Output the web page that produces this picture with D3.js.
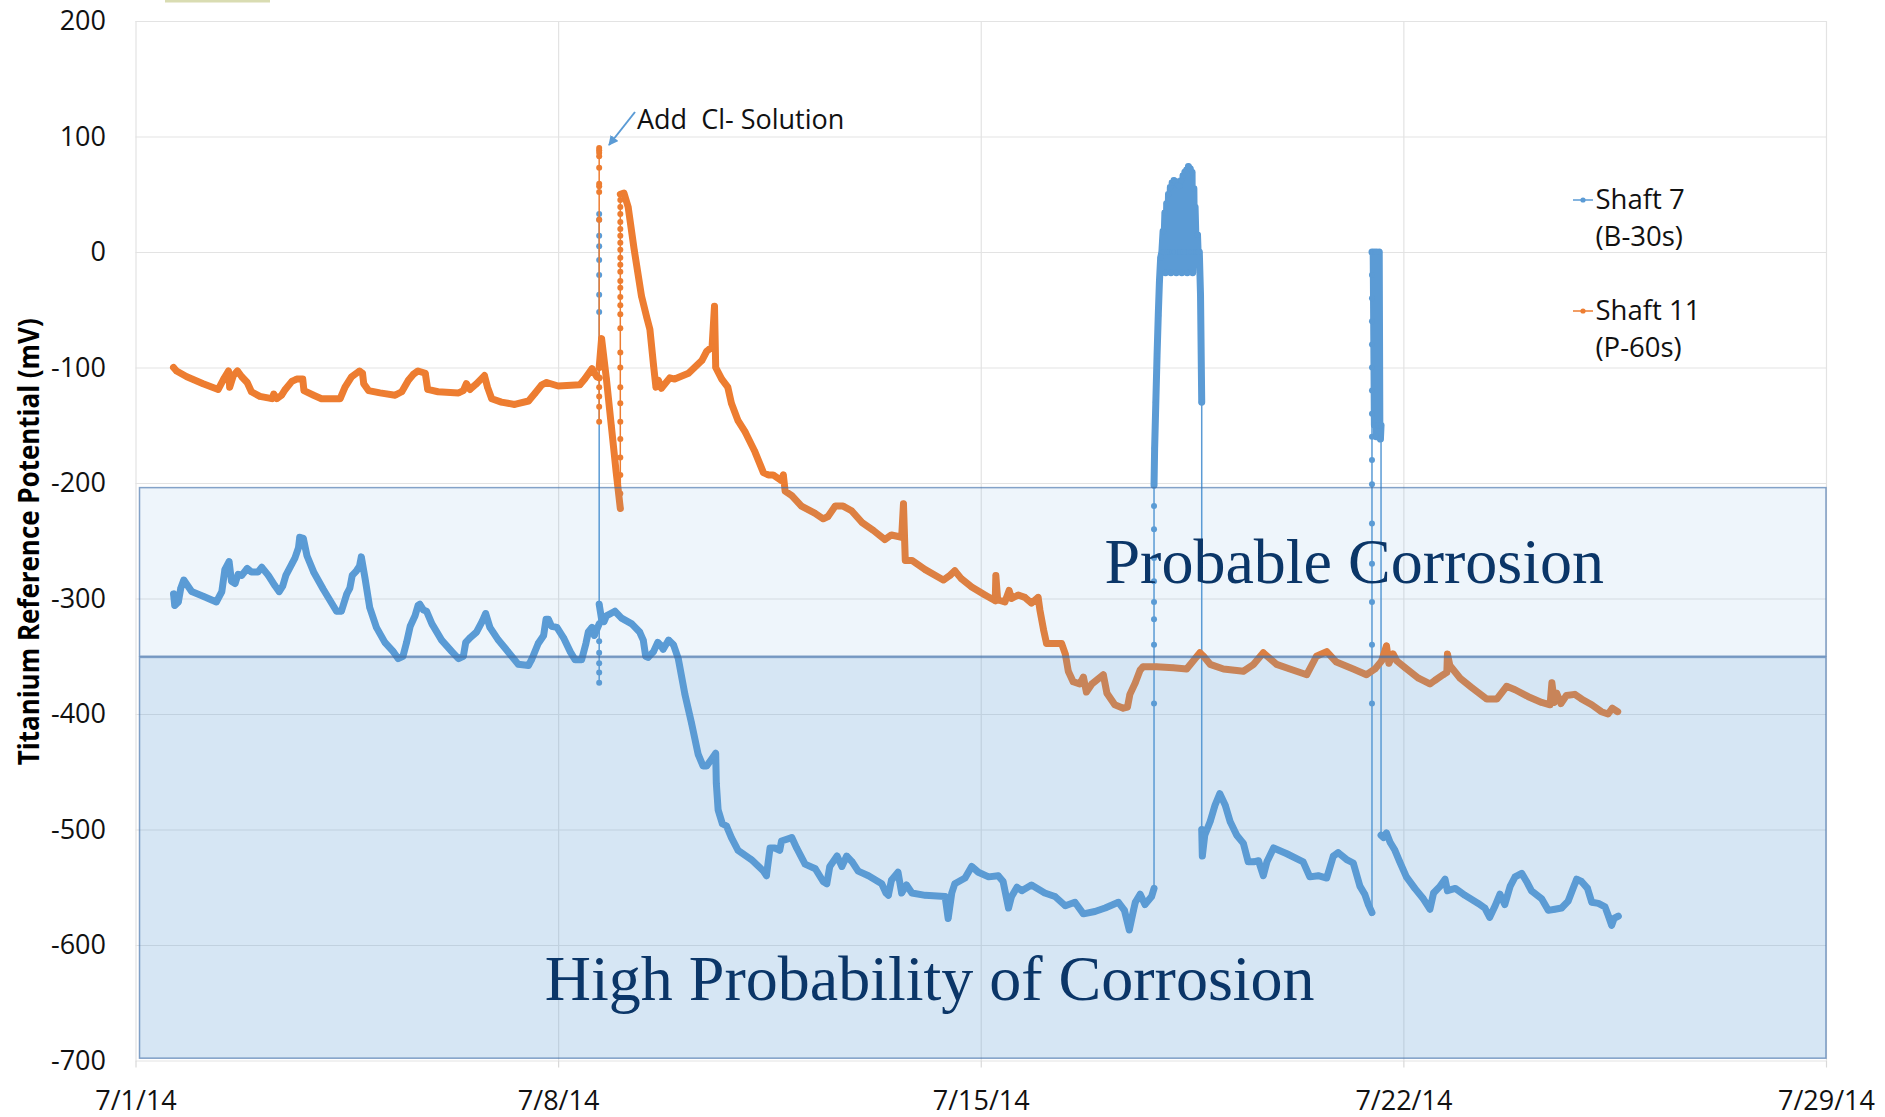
<!DOCTYPE html>
<html>
<head>
<meta charset="utf-8">
<script src="https://d3js.org/d3.v7.min.js"></script>
<style>
  body { margin: 0; background: #fff; }
  svg text { font-family: 'Open Sans', sans-serif; }
</style>
</head>
<body>
<script>
const WIDTH = 1885;
const HEIGHT = 1117;
const PLOT_LEFT = 135.5;
const PLOT_RIGHT = 1826;
const PLOT_TOP = 21;
const PLOT_BOTTOM = 1060.5;

const BLUE = '#5b9bd5';
const ORANGE = '#ed7d31';
const NAVY = '#0b3668';
const GRID_COLOR = '#e3e3e3';

// x labels of the chart (Excel date axis, one week apart)
const X_TICK_LABELS = ['7/1/14', '7/8/14', '7/15/14', '7/22/14', '7/29/14'];
const Y_TICKS = [200, 100, 0, -100, -200, -300, -400, -500, -600, -700];

const SERIES_NAMES = ['Shaft 7', 'Shaft 11'];
const SERIES_SUBNAMES = ['(B-30s)', '(P-60s)'];

// corrosion bands, in mV
const BAND_LABELS = ['Probable Corrosion', 'High Probability of Corrosion'];
const BAND_TOPS = [-204, -351];
const BAND_BOTTOMS = [-350, -698];

// readings: [days after 7/1/14, mV]; readings sharing a day are the fast jumps
const SHAFT7 = [
  [0.63,-296],[0.65,-306],[0.71,-303],[0.75,-291],[0.80,-284],[0.93,-294],[1.12,-298],[1.34,-303],
  [1.43,-294],[1.48,-275],[1.55,-268],[1.59,-285],[1.65,-287],[1.70,-279],[1.76,-280],[1.85,-274],
  [1.92,-277],[2.03,-277],[2.09,-273],[2.20,-280],[2.31,-289],[2.38,-294],[2.44,-289],[2.49,-280],
  [2.59,-270],[2.64,-265],[2.70,-256],[2.72,-247],[2.78,-248],[2.84,-263],[2.95,-277],[3.11,-292],
  [3.33,-311],[3.41,-311],[3.50,-296],[3.55,-291],[3.59,-280],[3.66,-276],[3.71,-272],[3.74,-264],
  [3.80,-282],[3.88,-308],[3.99,-325],[4.13,-338],[4.27,-346],[4.35,-352],[4.43,-350],[4.49,-338],
  [4.55,-324],[4.63,-315],[4.68,-306],[4.71,-305],[4.77,-310],[4.82,-311],[4.91,-322],[5.07,-336],
  [5.24,-346],[5.35,-352],[5.43,-350],[5.47,-338],[5.54,-334],[5.65,-329],[5.74,-320],[5.80,-313],
  [5.87,-325],[6.01,-336],[6.17,-346],[6.34,-357],[6.51,-358],[6.56,-353],[6.67,-339],[6.76,-332],
  [6.80,-318],[6.84,-318],[6.89,-324],[6.98,-325],[7.09,-334],[7.20,-346],[7.28,-353],[7.39,-353],
  [7.46,-339],[7.50,-329],[7.56,-325],[7.60,-332],[7.68,-322],
  [7.68,33],[7.68,28],[7.68,14],[7.68,5],[7.68,-7],[7.68,-20],[7.68,-37],[7.68,-52],
  [7.68,-337],[7.68,-347],[7.68,-356],[7.68,-364],[7.68,-373],[7.68,-305],
  [7.72,-318],[7.76,-320],[7.80,-315],[7.94,-311],[8.05,-317],[8.22,-322],[8.35,-329],[8.41,-336],
  [8.45,-350],[8.49,-351],[8.58,-346],[8.65,-338],[8.69,-340],[8.74,-344],[8.83,-336],[8.91,-340],
  [8.99,-352],[9.10,-383],[9.21,-408],[9.32,-435],[9.40,-445],[9.46,-445],[9.57,-437],[9.61,-434],
  [9.62,-460],[9.65,-483],[9.72,-495],[9.79,-497],[9.87,-507],[9.98,-518],[10.20,-526],[10.40,-536],
  [10.45,-540],[10.51,-516],[10.59,-516],[10.67,-518],[10.70,-510],[10.87,-507],[10.95,-516],[11.09,-530],
  [11.26,-534],[11.39,-545],[11.45,-547],[11.50,-532],[11.62,-523],[11.70,-532],[11.78,-523],[11.87,-528],
  [11.97,-536],[12.14,-540],[12.36,-547],[12.43,-555],[12.47,-557],[12.52,-544],[12.63,-537],[12.69,-555],
  [12.77,-548],[12.86,-555],[13.08,-557],[13.41,-558],[13.46,-577],[13.52,-555],[13.57,-547],[13.74,-542],
  [13.85,-532],[13.96,-537],[14.13,-541],[14.29,-540],[14.37,-545],[14.46,-568],[14.51,-558],[14.60,-550],
  [14.68,-553],[14.84,-548],[15.06,-555],[15.23,-558],[15.40,-566],[15.56,-563],[15.70,-573],[15.89,-571],
  [16.06,-568],[16.28,-563],[16.38,-570],[16.46,-587],[16.53,-570],[16.56,-563],[16.64,-556],[16.72,-565],
  [16.83,-558],[16.87,-551],
  [16.87,-391],[16.87,-340],[16.87,-318],[16.87,-303],[16.87,-285],[16.87,-265],[16.87,-240],
  [16.87,-220],[16.87,-202],
  [16.88,-170],[16.90,-130],[16.92,-90],[16.94,-55],[16.96,-25],[16.98,-5],[17.00,0],[17.02,18],
  [17.03,0],[17.05,34],[17.06,-18],[17.08,42],[17.09,0],[17.11,50],[17.12,0],[17.14,56],
  [17.15,-18],[17.17,60],[17.18,0],[17.20,62],[17.21,0],[17.23,61],[17.24,-18],[17.26,58],
  [17.27,0],[17.29,57],[17.30,0],[17.32,62],[17.33,-18],[17.35,66],[17.36,0],[17.38,69],
  [17.39,0],[17.41,71],[17.42,-18],[17.44,74],[17.45,0],[17.47,72],[17.48,0],[17.50,69],
  [17.51,-18],[17.53,55],[17.54,0],[17.55,39],[17.57,0],[17.59,15],[17.60,0],[17.62,0],
  [17.64,-37],[17.66,-130],
  [17.66,-500],
  [17.67,-523],[17.71,-505],[17.80,-493],[17.88,-479],[17.96,-469],[18.05,-479],[18.13,-493],[18.24,-505],
  [18.35,-512],[18.43,-528],[18.52,-528],[18.60,-527],[18.68,-540],[18.74,-528],[18.85,-516],[19.07,-521],
  [19.34,-528],[19.45,-541],[19.59,-540],[19.73,-542],[19.84,-523],[19.92,-520],[20.06,-526],[20.17,-529],
  [20.28,-549],[20.36,-556],[20.42,-565],[20.48,-572],
  [20.48,-391],[20.48,-340],[20.48,-303],[20.48,-270],[20.48,-235],[20.48,-201],[20.48,-180],
  [20.48,-160],[20.48,-140],[20.48,-120],[20.48,-100],[20.48,-80],[20.48,-60],[20.48,-40],
  [20.48,-20],[20.48,0],
  [20.50,0],[20.52,-150],[20.53,0],[20.55,-160],[20.56,0],[20.58,-150],[20.60,0],[20.61,-148],
  [20.62,-162],[20.63,-150],
  [20.63,-505],
  [20.67,-507],[20.72,-503],[20.78,-511],[20.86,-518],[20.94,-528],[21.05,-541],[21.19,-551],[21.33,-560],
  [21.44,-569],[21.50,-555],[21.61,-549],[21.69,-543],[21.73,-553],[21.86,-551],[22.02,-557],[22.24,-564],
  [22.35,-568],[22.43,-576],[22.52,-566],[22.60,-556],[22.68,-565],[22.77,-549],[22.85,-541],[22.96,-538],
  [23.04,-545],[23.12,-553],[23.29,-560],[23.40,-570],[23.51,-569],[23.62,-568],[23.73,-562],[23.81,-551],
  [23.87,-543],[23.95,-545],[24.05,-551],[24.12,-563],[24.23,-564],[24.34,-567],[24.39,-574],[24.45,-583],
  [24.49,-577],[24.56,-575]
];

const SHAFT11 = [
  [0.63,-100],[0.68,-103],[0.85,-108],[1.12,-114],[1.37,-119],[1.46,-110],[1.54,-103],[1.56,-117],
  [1.62,-107],[1.69,-103],[1.76,-108],[1.85,-113],[1.92,-121],[2.06,-125],[2.26,-127],[2.29,-123],
  [2.34,-127],[2.42,-124],[2.48,-119],[2.59,-112],[2.67,-110],[2.77,-110],[2.79,-120],[2.95,-124],
  [3.08,-127],[3.39,-127],[3.47,-117],[3.58,-108],[3.71,-103],[3.76,-105],[3.78,-114],[3.86,-120],
  [4.05,-122],[4.30,-124],[4.41,-121],[4.52,-111],[4.60,-106],[4.68,-103],[4.80,-105],[4.84,-119],
  [5.01,-121],[5.35,-122],[5.43,-120],[5.48,-114],[5.54,-119],[5.65,-114],[5.78,-107],[5.83,-117],
  [5.90,-127],[6.06,-130],[6.28,-132],[6.51,-129],[6.62,-122],[6.73,-115],[6.81,-113],[7.00,-116],
  [7.36,-115],[7.44,-110],[7.56,-101],[7.64,-108],[7.68,-109],
  [7.68,90],[7.68,88],[7.68,86],[7.68,83],[7.68,73],[7.68,59],[7.68,57],[7.68,52],[7.68,28],
  [7.68,-117],[7.68,-125],[7.68,-134],[7.68,-147],[7.68,-100],
  [7.72,-75],[7.80,-110],[7.88,-150],[7.96,-190],[8.03,-222],
  [8.03,-209],[8.03,-193],[8.03,-178],[8.03,-162],[8.03,-147],[8.03,-131],[8.03,-117],[8.03,-100],
  [8.03,-87],[8.03,-66],[8.03,-54],[8.03,-46],[8.03,-39],[8.03,-31],[8.03,-25],[8.03,-17],
  [8.03,-11],[8.03,-5],[8.03,2],[8.03,8],[8.03,14],[8.03,20],[8.03,26],[8.03,33],[8.03,39],
  [8.03,45],[8.03,50],
  [8.09,51],[8.16,39],[8.26,2],[8.38,-38],[8.47,-57],[8.52,-67],[8.58,-98],[8.62,-117],
  [8.66,-111],[8.71,-118],[8.85,-109],[8.93,-110],[9.16,-105],[9.38,-94],[9.46,-86],[9.55,-82],
  [9.59,-47],[9.61,-100],[9.71,-110],[9.81,-117],[9.87,-131],[9.98,-146],[10.10,-156],[10.26,-173],
  [10.40,-191],[10.48,-193],[10.56,-193],[10.70,-198],[10.73,-193],[10.76,-207],[10.87,-211],[11.03,-220],
  [11.25,-226],[11.39,-231],[11.47,-229],[11.59,-220],[11.72,-220],[11.86,-224],[12.03,-234],[12.22,-241],
  [12.41,-249],[12.52,-245],[12.69,-247],[12.72,-218],[12.75,-267],[12.86,-267],[13.08,-275],[13.38,-284],
  [13.49,-280],[13.57,-276],[13.68,-283],[13.85,-290],[14.07,-297],[14.24,-302],[14.25,-280],[14.28,-301],
  [14.40,-303],[14.47,-293],[14.51,-300],[14.62,-297],[14.73,-299],[14.84,-304],[14.95,-299],[14.98,-310],
  [15.04,-327],[15.09,-339],[15.34,-339],[15.40,-348],[15.45,-363],[15.53,-372],[15.64,-374],[15.70,-368],
  [15.75,-381],[15.84,-374],[16.03,-366],[16.09,-382],[16.22,-392],[16.36,-395],[16.43,-394],[16.47,-383],
  [16.56,-373],[16.64,-362],[16.69,-359],[16.91,-359],[17.19,-360],[17.41,-361],[17.63,-347],[17.69,-350],
  [17.80,-357],[18.02,-361],[18.35,-363],[18.52,-357],[18.68,-347],[18.90,-357],[19.12,-361],[19.40,-366],
  [19.56,-350],[19.73,-346],[19.89,-355],[20.17,-361],[20.39,-366],[20.53,-361],[20.64,-354],[20.72,-341],
  [20.76,-356],[20.83,-348],[20.89,-354],[21.03,-360],[21.25,-369],[21.44,-374],[21.52,-371],[21.66,-366],
  [21.72,-364],[21.73,-348],[21.77,-358],[21.94,-369],[22.13,-377],[22.38,-387],[22.55,-387],[22.71,-376],
  [22.85,-379],[23.07,-385],[23.29,-390],[23.43,-392],[23.46,-373],[23.50,-390],[23.54,-382],[23.61,-391],
  [23.70,-384],[23.84,-383],[23.95,-387],[24.12,-392],[24.28,-398],[24.39,-400],[24.46,-395],[24.55,-398]
];

const parseDate = d3.timeParse('%m/%d/%y');
const X_TICK_DATES = X_TICK_LABELS.map(parseDate);
const START = X_TICK_DATES[0];

function dayToDate(day)
{
    return new Date(START.getTime() + day * 864e5);
}

let svg = d3.select('body')
    .append('svg')
    .attr('width', WIDTH)
    .attr('height', HEIGHT);

let xScale = d3.scaleTime()
    .domain([X_TICK_DATES[0], X_TICK_DATES[X_TICK_DATES.length - 1]])
    .range([PLOT_LEFT, PLOT_RIGHT]);
let yScale = d3.scaleLinear()
    .domain([-700, 200])
    .range([PLOT_BOTTOM, PLOT_TOP]);

// stray bit of a cropped title box at the very top
svg.append('rect')
    .attr('x', 165).attr('y', 0)
    .attr('width', 105).attr('height', 2.5)
    .attr('fill', '#d9dcb2');

// horizontal gridlines + y labels (plain hyphen minus, like Excel)
let yAxis = svg.append('g')
    .attr('transform', 'translate(' + PLOT_LEFT + ',0)')
    .call(d3.axisLeft(yScale)
        .tickValues(Y_TICKS)
        .tickSize(-(PLOT_RIGHT - PLOT_LEFT))
        .tickPadding(29.5)
        .tickFormat(function(d) { return String(d); }));
yAxis.select('.domain').remove();
yAxis.selectAll('line').attr('stroke', GRID_COLOR).attr('stroke-width', 1.2);
yAxis.selectAll('text')
    .attr('font-size', 27)
    .attr('fill', '#111')
    .style('font-family', "'Open Sans', sans-serif");

// vertical gridlines
let xGrid = svg.append('g')
    .attr('transform', 'translate(0,' + PLOT_BOTTOM + ')')
    .call(d3.axisBottom(xScale)
        .tickValues(X_TICK_DATES)
        .tickSize(-(PLOT_BOTTOM - PLOT_TOP))
        .tickFormat(''));
xGrid.select('.domain').remove();
xGrid.selectAll('line').attr('stroke', GRID_COLOR).attr('stroke-width', 1.2);

// x tick marks + labels
let xAxis = svg.append('g')
    .attr('transform', 'translate(0,' + PLOT_BOTTOM + ')')
    .call(d3.axisBottom(xScale)
        .tickValues(X_TICK_DATES)
        .tickSize(7)
        .tickPadding(23)
        .tickFormat(function(d, i) { return X_TICK_LABELS[i]; }));
xAxis.select('.domain').remove();
xAxis.selectAll('line').attr('stroke', '#d9d9d9').attr('stroke-width', 1.2);
xAxis.selectAll('text')
    .attr('font-size', 27)
    .attr('fill', '#111')
    .style('font-family', "'Open Sans', sans-serif");

function drawSeries(data, color)
{
    let g = svg.append('g');
    let pts = data.map(function(d) { return [xScale(dayToDate(d[0])), yScale(d[1])]; });

    // thin connector through every reading (visible on the fast jumps)
    g.append('path')
        .attr('d', d3.line()(pts))
        .attr('fill', 'none')
        .attr('stroke', color)
        .attr('stroke-width', 1.5);

    // dense stretches look like a thick line in the original
    let runs = [];
    let run = [pts[0]];
    for (let i = 1; i < data.length; i++) {
        if (data[i][0] === data[i - 1][0]) {
            if (run.length > 1) runs.push(run);
            run = [pts[i]];
        } else {
            run.push(pts[i]);
        }
    }
    if (run.length > 1) runs.push(run);

    g.selectAll('path.thick')
        .data(runs)
        .enter()
        .append('path')
        .attr('class', 'thick')
        .attr('d', function(r) { return d3.line()(r); })
        .attr('fill', 'none')
        .attr('stroke', color)
        .attr('stroke-width', 7)
        .attr('stroke-linejoin', 'round')
        .attr('stroke-linecap', 'round');

    g.selectAll('circle')
        .data(pts)
        .enter()
        .append('circle')
        .attr('cx', function(p) { return p[0]; })
        .attr('cy', function(p) { return p[1]; })
        .attr('r', 3)
        .attr('fill', color);
}

drawSeries(SHAFT7, BLUE);
drawSeries(SHAFT11, ORANGE);

// translucent corrosion bands drawn over the data
const BAND_FILLS = ['rgba(91,155,213,0.10)', 'rgba(91,155,213,0.25)'];
svg.selectAll('rect.band')
    .data(BAND_TOPS)
    .enter()
    .append('rect')
    .attr('class', 'band')
    .attr('x', PLOT_LEFT + 4)
    .attr('y', function(d) { return yScale(d); })
    .attr('width', PLOT_RIGHT - PLOT_LEFT - 4)
    .attr('height', function(d, i) { return yScale(BAND_BOTTOMS[i]) - yScale(d); })
    .attr('fill', function(d, i) { return BAND_FILLS[i]; })
    .attr('stroke', 'rgba(68,114,170,0.65)')
    .attr('stroke-width', 1.5);

// band labels (baseline position in chart units)
const BAND_LABEL_DAYS = [16.05, 6.78];
const BAND_LABEL_MV = [-287, -648];
svg.selectAll('text.bandlabel')
    .data(BAND_LABELS)
    .enter()
    .append('text')
    .attr('class', 'bandlabel')
    .attr('x', function(d, i) { return xScale(dayToDate(BAND_LABEL_DAYS[i])); })
    .attr('y', function(d, i) { return yScale(BAND_LABEL_MV[i]); })
    .attr('font-size', 64)
    .attr('fill', NAVY)
    .style('font-family', "'Liberation Serif', 'Times New Roman', serif")
    .text(function(d) { return d; });

// y axis title
svg.append('text')
    .attr('transform', 'translate(38.5,' + ((PLOT_TOP + PLOT_BOTTOM) / 2 + 1) + ') rotate(-90)')
    .attr('text-anchor', 'middle')
    .attr('font-size', 28)
    .attr('font-weight', 'bold')
    .attr('fill', '#000')
    .attr('textLength', 447)
    .attr('lengthAdjust', 'spacingAndGlyphs')
    .text('Titanium Reference Potential (mV)');

// annotation with arrow
svg.append('defs').append('marker')
    .attr('id', 'arrowhead')
    .attr('viewBox', '0 0 10 10')
    .attr('refX', 9).attr('refY', 5)
    .attr('markerWidth', 5).attr('markerHeight', 5)
    .attr('orient', 'auto')
    .append('path')
    .attr('d', 'M0,0 L10,5 L0,10 z')
    .attr('fill', BLUE);

svg.append('line')
    .attr('x1', 635).attr('y1', 112)
    .attr('x2', 609).attr('y2', 145)
    .attr('stroke', BLUE)
    .attr('stroke-width', 2)
    .attr('marker-end', 'url(#arrowhead)');

svg.append('text')
    .attr('x', 637)
    .attr('y', 129)
    .attr('font-size', 27)
    .attr('fill', '#111')
    .style('white-space', 'pre')
    .text('Add  Cl- Solution');

// legend
const LEGEND_X = 1573;
const LEGEND_Y = [200, 311];
const LEGEND_COLORS = [BLUE, ORANGE];
let legend = svg.selectAll('g.legend')
    .data(SERIES_NAMES)
    .enter()
    .append('g')
    .attr('class', 'legend')
    .attr('transform', function(d, i) { return 'translate(' + LEGEND_X + ',' + LEGEND_Y[i] + ')'; });
legend.append('line')
    .attr('x1', 0).attr('x2', 20)
    .attr('stroke', function(d, i) { return LEGEND_COLORS[i]; })
    .attr('stroke-width', 1.5);
legend.append('circle')
    .attr('cx', 10).attr('r', 2.6)
    .attr('fill', function(d, i) { return LEGEND_COLORS[i]; });
legend.append('text')
    .attr('x', 22.5).attr('y', 9)
    .attr('font-size', 27.5)
    .attr('fill', '#111')
    .text(function(d) { return d; });
legend.append('text')
    .attr('x', 22.5).attr('y', 45.5)
    .attr('font-size', 27.5)
    .attr('fill', '#111')
    .text(function(d, i) { return SERIES_SUBNAMES[i]; });
</script>
</body>
</html>
